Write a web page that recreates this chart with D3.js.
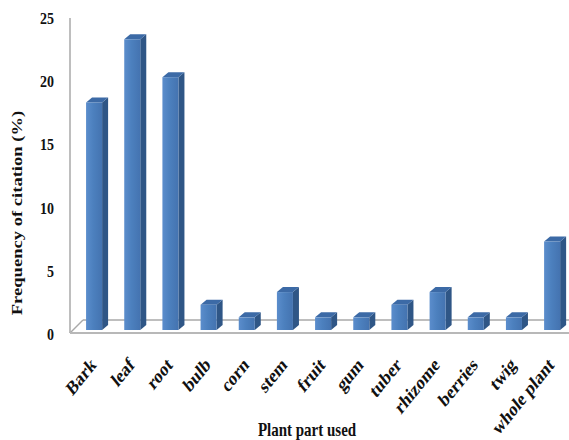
<!DOCTYPE html>
<html>
<head>
<meta charset="utf-8">
<script src="https://cdn.jsdelivr.net/npm/d3@7"></script>
<style>
  html, body { margin: 0; padding: 0; background: #fff; }
  svg { display: block; }
  text { font-family: "Liberation Serif", "Times New Roman", serif; font-weight: bold; fill: #111; }
</style>
</head>
<body>
<svg id="chart" width="569" height="440"></svg>
<script>
// Plant parts and their citation frequency (%)
const categories = ["Bark", "leaf", "root", "bulb", "corn", "stem", "fruit", "gum",
                    "tuber", "rhizome", "berries", "twig", "whole plant"];
const frequency = [18, 23, 20, 2, 1, 3, 1, 1, 2, 3, 1, 1, 7];
const yTicks = [0, 5, 10, 15, 20, 25];

const svg = d3.select("#chart");
const W = 569, H = 440;

const base = 330;          // floor level of the columns
const depthX = 6, depthY = 5; // 3-D offset of column depth
const stretch = 1.24;      // vertical stretch applied to text

const x = d3.scaleBand()
  .domain(categories)
  .range([75, 571.2])
  .paddingInner(0.58)
  .paddingOuter(0.29);

const y = d3.scaleLinear().domain([0, 25]).range([base, 14]);

// gradient for the front face of each column
const defs = svg.append("defs");
const g = defs.append("linearGradient").attr("id", "front").attr("x1", 0).attr("x2", 1).attr("y1", 0).attr("y2", 0);
g.append("stop").attr("offset", "0%").attr("stop-color", "#5b8dcc");
g.append("stop").attr("offset", "45%").attr("stop-color", "#4c80be");
g.append("stop").attr("offset", "100%").attr("stop-color", "#4473b0");

// walls and floor outline
const grid = svg.append("g").attr("stroke", "#a9a9a9").attr("fill", "none");
grid.append("line").attr("x1", 70).attr("x2", 70).attr("y1", y(25) + 4).attr("y2", base + 3).attr("stroke-width", 1.5);
grid.append("line").attr("x1", 70).attr("y1", base + 3).attr("x2", 70 + 13).attr("y2", base - 10).attr("stroke-width", 1.5);
grid.append("line").attr("x1", 83).attr("x2", W).attr("y1", base - 10).attr("y2", base - 10).attr("stroke-width", 1.5);
grid.append("line").attr("x1", 70).attr("x2", W).attr("y1", base + 3).attr("y2", base + 3).attr("stroke-width", 2).attr("stroke", "#b8b8b8");

// y tick labels
svg.append("g").selectAll("text").data(yTicks).join("text")
  .attr("text-anchor", "end")
  .attr("font-size", 14)
  .attr("transform", d => `translate(54,${y(d) + 4}) scale(1,${stretch})`)
  .attr("dy", "0.35em")
  .text(d => d);

// columns
const bars = svg.append("g").selectAll("g").data(categories).join("g");
const bw = x.bandwidth();

bars.append("path") // side face
  .attr("fill", "#2f5686")
  .attr("d", (c, i) => {
    const x0 = x(c) + bw, yt = y(frequency[i]);
    return `M${x0},${yt} L${x0 + depthX},${yt - depthY} L${x0 + depthX},${base - depthY} L${x0},${base} Z`;
  });

bars.append("path") // top face
  .attr("fill", "#3c6aa6")
  .attr("d", (c, i) => {
    const x0 = x(c), yt = y(frequency[i]);
    return `M${x0},${yt} L${x0 + depthX},${yt - depthY} L${x0 + bw + depthX},${yt - depthY} L${x0 + bw},${yt} Z`;
  });

bars.append("rect") // front face
  .attr("fill", "url(#front)")
  .attr("x", c => x(c))
  .attr("width", bw)
  .attr("y", (c, i) => y(frequency[i]))
  .attr("height", (c, i) => base - y(frequency[i]));

// category labels
svg.append("g").selectAll("text").data(categories).join("text")
  .attr("text-anchor", "end")
  .attr("font-size", 16)
  .attr("transform", c => `translate(${x(c) + bw / 2 + 3},366) scale(1,${stretch}) rotate(-45)`)
  .text(c => c);

// axis titles
svg.append("text")
  .attr("text-anchor", "middle")
  .attr("font-size", 15)
  .attr("transform", `translate(22,213) scale(1,${stretch}) rotate(-90)`)
  .text("Frequency of citation (%)");

svg.append("text")
  .attr("text-anchor", "middle")
  .attr("font-size", 15)
  .attr("transform", `translate(307,436) scale(1,${stretch})`)
  .text("Plant part used");
</script>
</body>
</html>
